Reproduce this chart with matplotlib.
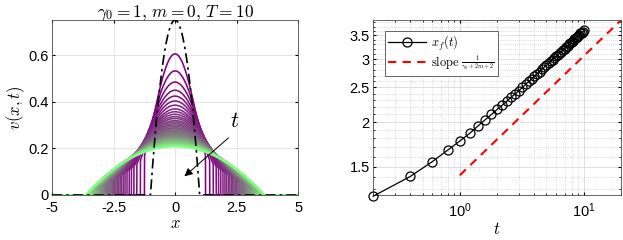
import numpy as np
import matplotlib
matplotlib.use('Agg')
import matplotlib.pyplot as plt
from matplotlib.ticker import FixedLocator, NullFormatter

plt.rcParams['font.family'] = ['Liberation Sans', 'DejaVu Sans']
plt.rcParams['mathtext.fontset'] = 'cm'
plt.rcParams['axes.unicode_minus'] = False

# times of the saved profiles / front positions
t_vals = [0.2, 0.4, 0.6, 0.8, 1.0, 1.2, 1.4, 1.6, 1.8, 2.0,
          2.2, 2.4, 2.6, 2.8, 3.0, 3.2, 3.4, 3.6, 3.8, 4.0,
          4.2, 4.4, 4.6, 4.8, 5.0, 5.2, 5.4, 5.6, 5.8, 6.0,
          6.2, 6.4, 6.6, 6.8, 7.0, 7.2, 7.4, 7.6, 7.8, 8.0,
          8.2, 8.4, 8.6, 8.8, 9.0, 9.2, 9.4, 9.6, 9.8, 10.0]
x_front = [1.24, 1.41, 1.55, 1.67, 1.77, 1.86, 1.95, 2.03, 2.10, 2.17,
           2.23, 2.29, 2.35, 2.40, 2.45, 2.50, 2.55, 2.60, 2.64, 2.69,
           2.73, 2.77, 2.81, 2.85, 2.88, 2.92, 2.96, 2.99, 3.03, 3.06,
           3.09, 3.12, 3.15, 3.18, 3.21, 3.24, 3.27, 3.30, 3.33, 3.36,
           3.38, 3.41, 3.44, 3.46, 3.49, 3.51, 3.54, 3.56, 3.58, 3.61]
# peak height v(0,t) of each profile
v_peak = [0.605, 0.532, 0.484, 0.449, 0.424, 0.403, 0.385, 0.369, 0.357, 0.346,
          0.336, 0.328, 0.319, 0.313, 0.306, 0.300, 0.294, 0.288, 0.284, 0.279,
          0.275, 0.271, 0.267, 0.263, 0.260, 0.257, 0.253, 0.251, 0.248, 0.245,
          0.243, 0.240, 0.238, 0.236, 0.234, 0.231, 0.229, 0.227, 0.225, 0.223,
          0.222, 0.220, 0.218, 0.217, 0.215, 0.214, 0.212, 0.211, 0.209, 0.208]
# initial data v0(x) = 0.75 (1 - x^2)_+
v0_amp = 0.75
v0_half = 1.0
# reference slope line 1/(gamma0+2m+2) = 1/3
slope_t = [1.0, 20.0]
slope_x = [1.42, 3.86]


def profile(x, peak, front, u):
    # truncated dome, steep front early on, smooth edge at late times
    q = 1 + 3 * (1 - u) ** 2
    r = 0.28 * (1 - u) ** 0.6
    beta = np.sqrt(1 - r ** (1 / q)) if r > 0 else 1.0
    R = front / beta
    v = peak * np.clip(1 - (x / R) ** 2, 0, None) ** q
    v[np.abs(x) > front] = 0
    return v


fig = plt.figure(figsize=(6.23, 2.4), dpi=100)
ax1 = fig.add_axes([0.0835, 0.1875, 0.395, 0.729])
ax2 = fig.add_axes([0.599, 0.1875, 0.398, 0.729])

xx = np.linspace(-5, 5, 2001)
n = len(t_vals)
c0 = np.array([0.5, 0.0, 0.5])
c1 = np.array([0.5, 1.0, 0.5])
for k in range(n):
    u = k / (n - 1)
    col = c0 + (c1 - c0) * u
    ax1.plot(xx, profile(xx, v_peak[k], x_front[k], u), color=col, lw=1.15,
             clip_on=False, zorder=2)

v0 = v0_amp * np.clip(1 - (xx / v0_half) ** 2, 0, None)
ax1.plot(xx, v0, color='k', lw=1.2, ls=(0, (6, 2.5, 1.5, 2.5)), zorder=3)

ax1.annotate('', xy=(0.38, 0.08), xytext=(2.17, 0.245),
             arrowprops=dict(arrowstyle='-|>', color='k', lw=0.7,
                             mutation_scale=12, shrinkA=0, shrinkB=0),
             zorder=4)
ax1.text(2.25, 0.29, r'$t$', fontsize=16, zorder=4)

ax1.set_xlim(-5, 5)
ax1.set_ylim(0, 0.75)
ax1.set_xticks([-5, -2.5, 0, 2.5, 5])
ax1.set_xticklabels(['-5', '-2.5', '0', '2.5', '5'])
ax1.set_yticks([0, 0.2, 0.4, 0.6])
ax1.set_yticklabels(['0', '0.2', '0.4', '0.6'])
ax1.grid(True, color='0.88', lw=0.6)
ax1.set_axisbelow(True)
ax1.set_xlabel(r'$x$', fontsize=12, labelpad=0.5)
ax1.set_ylabel(r'$v(x,t)$', fontsize=12, labelpad=1)
ax1.set_title(r'$\gamma_0 = 1,\, m = 0,\, T = 10$', fontsize=12.5, pad=2)
ax1.tick_params(direction='in', length=2.5, labelsize=10.5, top=True, right=True,
                pad=2.5)
ax1.tick_params(axis='x', pad=4.5)
for s in ax1.spines.values():
    s.set_color('0.3')
    s.set_linewidth(0.6)

# right panel: front position
ax2.loglog(t_vals, x_front, 'k-', marker='o', mfc='none', mec='k', ms=6.5,
           mew=0.9, lw=0.9, label=r'$x_f(t)$', clip_on=False, zorder=3)
ax2.loglog(slope_t, slope_x, 'r--', lw=1.5, dashes=(4, 3),
           label=r'$\mathrm{slope}\ \genfrac{}{}{0.4}{2}{1}{\gamma_0+2m+2}$', zorder=2)
ax2.set_xlim(0.2, 20)
ax2.set_ylim(1.25, 3.86)
ax2.yaxis.set_major_locator(FixedLocator([1.5, 2, 2.5, 3, 3.5]))
ax2.set_yticklabels(['1.5', '2', '2.5', '3', '3.5'])
ax2.yaxis.set_minor_locator(FixedLocator([1.3, 1.4, 1.6, 1.7, 1.8, 1.9, 2.1, 2.2, 2.3,
                                          2.4, 2.6, 2.7, 2.8, 2.9, 3.1, 3.2, 3.3,
                                          3.4, 3.6, 3.7, 3.8]))
ax2.yaxis.set_minor_formatter(NullFormatter())
ax2.grid(True, which='major', color='0.85', lw=0.6)
ax2.grid(True, which='minor', color='0.72', lw=0.5, ls=(0, (1, 2)))
ax2.set_axisbelow(True)
ax2.set_xlabel(r'$t$', fontsize=12, labelpad=0.5)
ax2.tick_params(which='both', direction='in', top=True, right=True, labelsize=10.5,
                pad=2.5)
ax2.tick_params(axis='x', which='both', pad=4.5)
ax2.tick_params(which='major', length=2.5)
ax2.tick_params(which='minor', length=1.5)
for s in ax2.spines.values():
    s.set_color('0.3')
    s.set_linewidth(0.6)
leg = ax2.legend(loc='upper left', fontsize=9, frameon=True, fancybox=False,
                 edgecolor='0.3', framealpha=1, borderpad=0.25, handlelength=3.0,
                 labelspacing=0.15, handletextpad=0.4, borderaxespad=0,
                 bbox_to_anchor=(0.048, 0.94))
leg.get_frame().set_linewidth(0.6)

fig.savefig('out.png', dpi=100)
